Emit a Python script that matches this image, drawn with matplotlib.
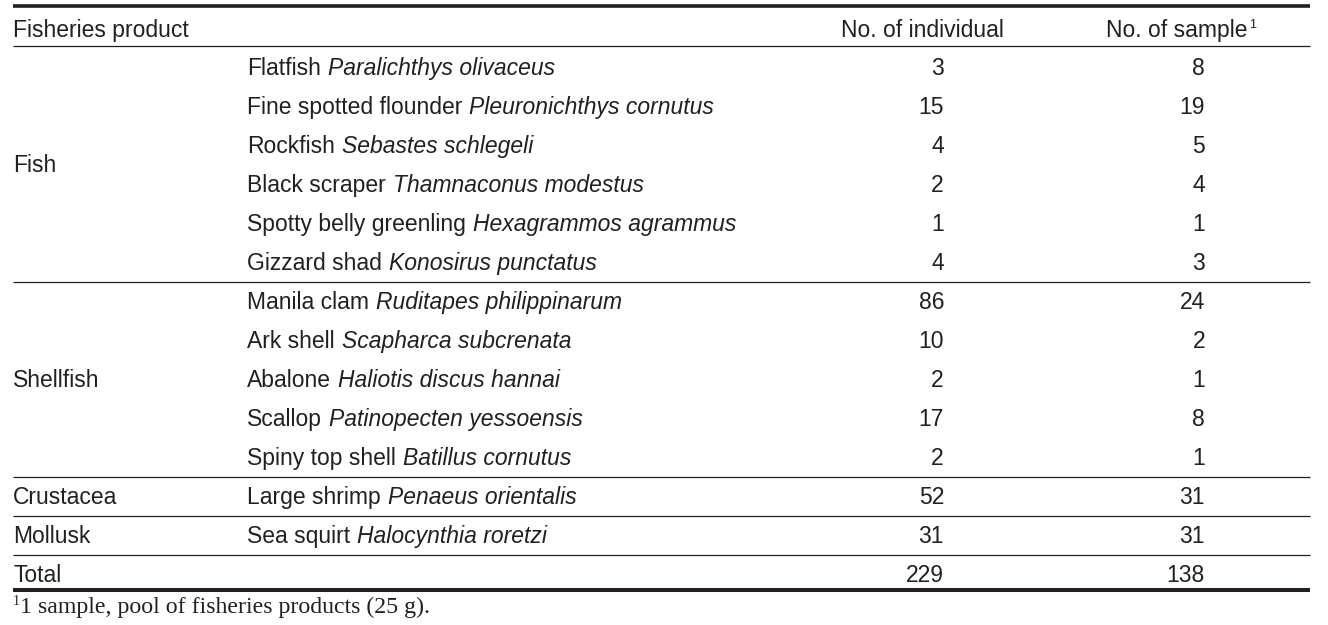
import matplotlib
matplotlib.use("Agg")
import matplotlib.pyplot as plt

# table content
groups = ["Fish", "Shellfish", "Crustacea", "Mollusk"]
group_rows = [(0, 5), (6, 10), (11, 11), (12, 12)]   # first / last row of each group
common = ["Flatfish", "Fine spotted flounder", "Rockfish", "Black scraper",
          "Spotty belly greenling", "Gizzard shad", "Manila clam", "Ark shell",
          "Abalone", "Scallop", "Spiny top shell", "Large shrimp", "Sea squirt"]
latin = ["Paralichthys olivaceus", "Pleuronichthys cornutus", "Sebastes schlegeli",
         "Thamnaconus modestus", "Hexagrammos agrammus", "Konosirus punctatus",
         "Ruditapes philippinarum", "Scapharca subcrenata", "Haliotis discus hannai",
         "Patinopecten yessoensis", "Batillus cornutus", "Penaeus orientalis",
         "Halocynthia roretzi"]
n_individual = [3, 15, 4, 2, 1, 4, 86, 10, 2, 17, 2, 52, 31]
n_sample = [8, 19, 5, 4, 1, 3, 24, 2, 1, 8, 1, 31, 31]
headers = ["Fisheries product", "No. of individual", "No. of sample"]
footnote = "1 sample, pool of fisheries products (25 g)."

W, H = 1328, 625
ink = "#231f20"
fs = 16.5
sans = "Liberation Sans"

fig = plt.figure(figsize=(W / 100, H / 100), dpi=100)
ax = fig.add_axes([0, 0, 1, 1])
ax.set_xlim(0, W)
ax.set_ylim(H, 0)
ax.axis("off")
renderer = fig.canvas.get_renderer()

x0, x1 = 13, 1310
x_species = 247
x_ind = 944
x_samp = 1205
y_head = 29
row0, dy = 67, 39
base = 8.0   # baseline sits this many px below the row centre

def row_y(i):
    return row0 + dy * i

# rules
ax.hlines(5.5, x0, x1, color=ink, lw=2.6)
ax.hlines(45.5, x0, x1, color=ink, lw=0.9)
for g0, g1 in group_rows:
    ax.hlines(row_y(g1) + dy / 2, x0, x1, color=ink, lw=0.9)
ax.hlines(590, x0, x1, color=ink, lw=2.9)

txt = dict(color=ink, fontsize=fs, family=sans, va="baseline")

# header
ax.text(x0, y_head + base, headers[0], ha="left", **txt)
ax.text(922, y_head + base, headers[1], ha="center", **txt)
h = ax.text(1177, y_head + base, headers[2], ha="center", **txt)
hx = h.get_window_extent(renderer).x1
ax.text(hx + 1.5, y_head + base - 9, "1", ha="left", color=ink,
        fontsize=fs * 0.55, family=sans, va="baseline")

# group labels
for name, (g0, g1) in zip(groups, group_rows):
    ax.text(x0, (row_y(g0) + row_y(g1)) / 2 + base, name, ha="left", **txt)

# species rows
for i in range(len(common)):
    y = row_y(i) + base
    t = ax.text(x_species, y, common[i], ha="left", **txt)
    tx = t.get_window_extent(renderer).x1
    ax.text(tx + 7, y, latin[i], ha="left", style="italic", **txt)
    ax.text(x_ind, y, str(n_individual[i]), ha="right", **txt)
    ax.text(x_samp, y, str(n_sample[i]), ha="right", **txt)

# total row
yt = row_y(len(common)) + base
ax.text(x0, yt, "Total", ha="left", **txt)
ax.text(x_ind, yt, str(sum(n_individual)), ha="right", **txt)
ax.text(x_samp, yt, str(sum(n_sample)), ha="right", **txt)

# footnote
ax.text(20, 613, footnote, ha="left", va="baseline", color=ink,
        fontsize=17.2, family="Liberation Serif")
ax.text(19.5, 605, "1", ha="right", va="baseline", color=ink,
        fontsize=10, family="Liberation Serif")

fig.savefig("out.png", dpi=100)
